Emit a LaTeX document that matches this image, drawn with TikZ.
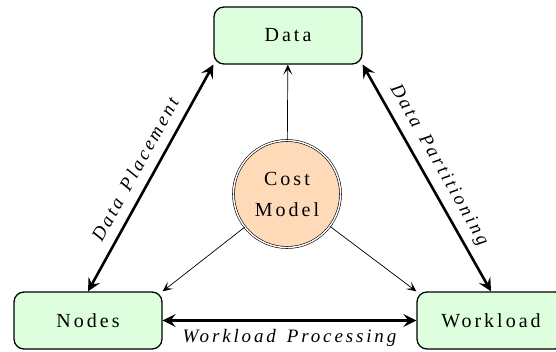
\documentclass[tikz,border=0pt]{standalone}
\usepackage{fontspec}
\setmainfont{Liberation Serif}[LetterSpace=15]
\usetikzlibrary{arrows.meta}
\definecolor{boxgreen}{RGB}{221,255,221}
\definecolor{peach}{RGB}{255,218,185}
\tikzset{
  lbl/.style={font=\fontsize{20}{23}\selectfont},
  box/.style={lbl, draw=black, line width=1.3pt, rounded corners=10pt, fill=boxgreen,
              minimum width=148pt, minimum height=57pt, inner sep=0pt},
  costnode/.style={lbl, circle, draw=black, line width=0.6pt, double=white, double distance=1.4pt,
              fill=peach, minimum size=107pt, inner sep=0pt, align=center},
  bigarrow/.style={line width=2.6pt, {Stealth[length=13pt,width=13pt,inset=5pt]}-{Stealth[length=13pt,width=13pt,inset=5pt]}},
  thinarrow/.style={line width=0.7pt, -{Stealth[length=10pt,width=9pt,inset=5pt]}},
  edgelbl/.style={font=\fontsize{19}{22}\selectfont\itshape, inner sep=0pt}
}
\newcommand{\wgap}{\hspace{11pt}}
\begin{document}
\begin{tikzpicture}[x=1pt,y=-1pt]
\clip (0,0) rectangle (556,352);
\fill[white] (0,0) rectangle (556,352);
\node[box] (data) at (288,35.5) {Data};
\node[box] (nodes) at (88,320.5) {Nodes};
\node[box] (work) at (491,320.5) {Workload};
\node[costnode] (cost) at (287,194) {Cost\\[8pt]Model};
\draw[thinarrow] (cost) -- (data);
\draw[thinarrow] (cost) -- (nodes.north east);
\draw[thinarrow] (cost) -- (work.north west);
\draw[bigarrow] (nodes.north) -- node[edgelbl, midway, sloped, above=10pt] (lp) {Data\wgap Placement} (data.south west);
\draw[bigarrow] (data.south east) -- node[edgelbl, pos=0.48, sloped, above=7pt] (lq) {Data\wgap Partitioning} (work.north);
\draw[bigarrow] (nodes.east) -- node[edgelbl, midway, below=8pt] (lw) {Workload\wgap Processing} (work.west);
\end{tikzpicture}
\end{document}
